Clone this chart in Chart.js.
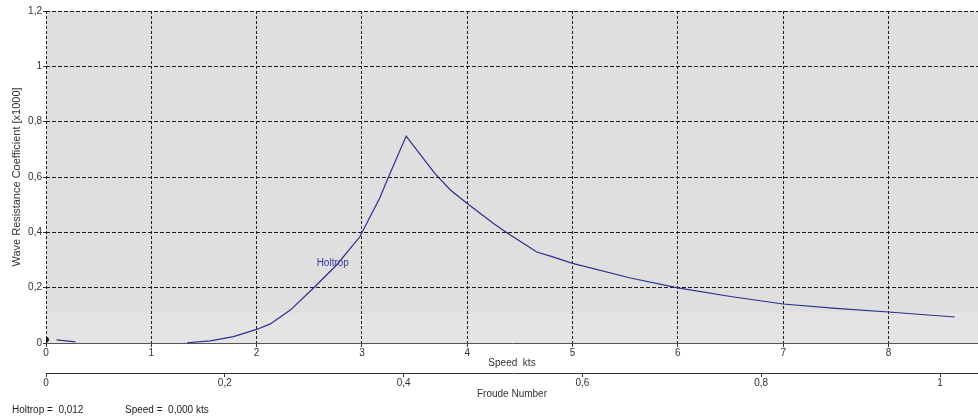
<!DOCTYPE html>
<html lang="en">
<head>
<meta charset="utf-8"/>
<title>Wave Resistance Coefficient</title>
<script src="https://cdn.jsdelivr.net/npm/chart.js"></script>
<style>
  body { margin: 0; background: #fff; font-family: "Liberation Sans", Arial, sans-serif; }
  #wrap { position: relative; width: 978px; height: 418px; overflow: hidden; }
  .readout { position: absolute; top: 404px; font-size: 10px; color: #222; white-space: pre; }
</style>
</head>
<body>
<div id="wrap">
  <canvas id="waveChart" width="978" height="418"></canvas>
  <div class="readout" style="left:12px">Holtrop =  0,012</div>
  <div class="readout" style="left:125px">Speed =  0,000 kts</div>
</div>
<script>
  // speed in kts, Cw x1000 (null = gap in the curve)
  const speedKts = [0.10, 0.28, 0.80,
                    1.34, 1.56, 1.78, 2.00, 2.13, 2.32, 2.54, 2.76, 2.98, 3.17, 3.25, 3.42,
                    3.69, 3.84, 4.00, 4.25, 4.38, 4.66, 4.79, 5.00, 5.55, 6.00, 6.50, 7.00, 7.50, 8.00, 8.63];
  const holtrop  = [0.011, 0.004, null,
                    0.001, 0.008, 0.023, 0.049, 0.069, 0.119, 0.199, 0.282, 0.384, 0.525, 0.598, 0.748,
                    0.614, 0.553, 0.504, 0.432, 0.398, 0.329, 0.314, 0.288, 0.235, 0.199, 0.168, 0.141, 0.125, 0.112, 0.094];
  const cursorSpeed = [0];
  const cursorValue = [0.012];

  const speedTicks = [0, 1, 2, 3, 4, 5, 6, 7, 8];
  const froudeTicks = [0, 0.2, 0.4, 0.6, 0.8, 1];
  const yTicks = [0, 0.2, 0.4, 0.6, 0.8, 1, 1.2];

  const speedMax = 8.85;
  const froudeMax = 1.0425;

  const comma = v => String(+Number(v).toFixed(2)).replace('.', ',');
  const font = { family: '"Liberation Sans", Arial, sans-serif', size: 10 };

  const plotBg = {
    id: 'plotBg',
    beforeDraw(chart) {
      const { ctx, chartArea: a, scales } = chart;
      ctx.save();
      ctx.fillStyle = '#dfdfdf';
      ctx.fillRect(a.left, a.top, a.right - a.left, a.bottom - a.top);
      const yb = scales.y.getPixelForValue(0.11);
      ctx.fillStyle = '#e4e4e4';
      ctx.fillRect(a.left, yb, a.right - a.left, a.bottom - yb);
      ctx.restore();
    },
    afterDatasetsDraw(chart) {
      const { ctx, scales } = chart;
      ctx.save();
      ctx.font = '10px "Liberation Sans", Arial, sans-serif';
      ctx.fillStyle = '#34399a';
      ctx.textBaseline = 'middle';
      ctx.fillText('Holtrop', scales.x.getPixelForValue(2.57), scales.y.getPixelForValue(0.289));
      ctx.restore();
    }
  };

  new Chart(document.getElementById('waveChart'), {
    type: 'scatter',
    data: {
      datasets: [{
        label: 'Holtrop',
        data: speedKts.map((s, i) => ({ x: s, y: holtrop[i] })),
        showLine: true,
        spanGaps: false,
        borderColor: '#2b2f8e',
        borderWidth: 1.2,
        pointRadius: 0,
        pointHoverRadius: 0,
        tension: 0
      }, {
        label: 'cursor',
        data: cursorSpeed.map((s, i) => ({ x: s, y: cursorValue[i] })),
        pointRadius: 2.5,
        pointBackgroundColor: '#111',
        pointBorderColor: '#111'
      }]
    },
    options: {
      responsive: false,
      animation: false,
      layout: { autoPadding: false, padding: { top: 11, right: 0, bottom: 14, left: 0 } },
      plugins: { legend: { display: false }, tooltip: { enabled: false } },
      scales: {
        x: {
          type: 'linear', position: 'bottom', weight: 0,
          min: 0, max: speedMax,
          afterFit: s => { s.height = 30; s.paddingRight = 0; },
          afterBuildTicks: s => { s.ticks = speedTicks.map(v => ({ value: v })); },
          ticks: { font, color: '#333', padding: 0, maxRotation: 0, callback: v => comma(v) },
          grid: { color: '#1a1a1a', tickColor: '#333', tickLength: 4 },
          border: { display: true, color: '#555', width: 1, dash: [3, 2] },
          title: { display: true, text: 'Speed  kts', font, color: '#333', padding: { top: 0, bottom: 4 } }
        },
        x2: {
          type: 'linear', position: 'bottom', weight: 1,
          min: 0, max: froudeMax,
          afterFit: s => { s.height = 31; s.paddingRight = 0; },
          afterBuildTicks: s => { s.ticks = froudeTicks.map(v => ({ value: v })); },
          ticks: { font, color: '#333', padding: 0, maxRotation: 0, callback: v => comma(v) },
          grid: { drawOnChartArea: false, tickColor: '#333', tickLength: 4 },
          border: { display: true, color: '#333', width: 1 },
          title: { display: true, text: 'Froude Number', font, color: '#333', padding: { top: 0, bottom: 4 } }
        },
        y: {
          type: 'linear', min: 0, max: 1.2,
          afterFit: s => { s.width = 46; },
          afterBuildTicks: s => { s.ticks = yTicks.map(v => ({ value: v })); },
          ticks: { font, color: '#333', padding: 1, callback: v => comma(v) },
          grid: { color: '#1a1a1a', tickColor: '#333', tickLength: 3 },
          border: { display: false, dash: [4, 2] },
          title: { display: true, text: 'Wave Resistance Coefficient [x1000]',
                   font: { family: font.family, size: 11 }, color: '#333', padding: { top: 10, bottom: 0 } }
        }
      }
    },
    plugins: [plotBg]
  });
</script>
</body>
</html>
